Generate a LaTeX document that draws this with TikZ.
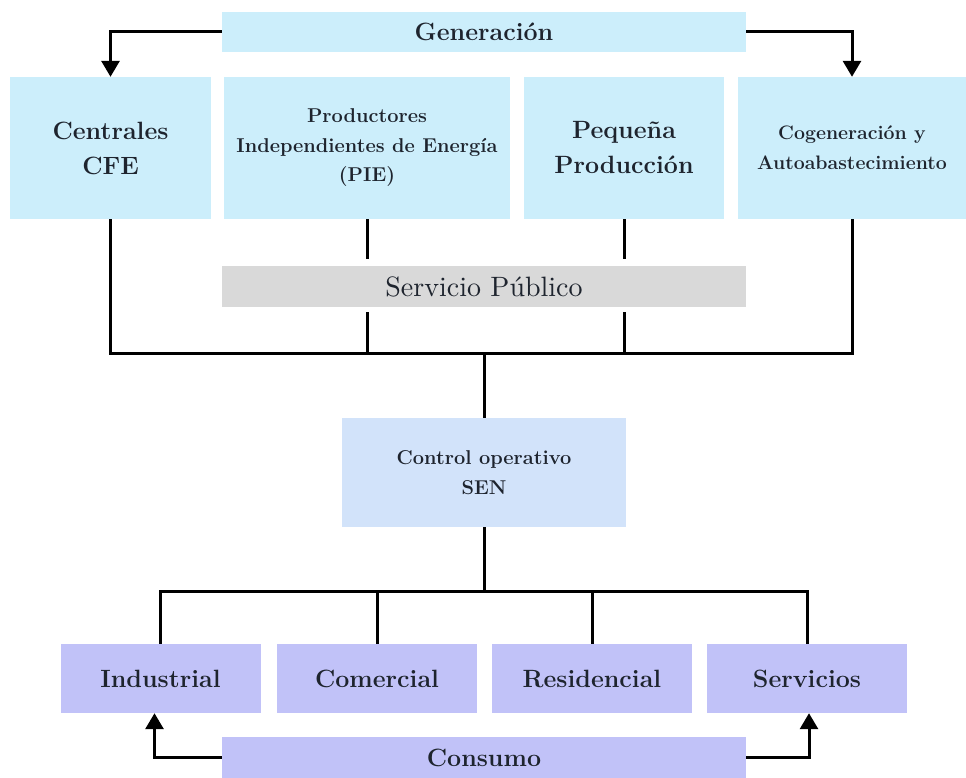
\documentclass[tikz,border=0pt]{standalone}
\usetikzlibrary{arrows.meta,calc}

\definecolor{gencyan}{RGB}{204,238,251}
\definecolor{servgray}{RGB}{217,217,217}
\definecolor{ctrlblue}{RGB}{210,227,250}
\definecolor{conslav}{RGB}{193,194,248}
\definecolor{ink}{RGB}{30,36,46}

\begin{document}
\begin{tikzpicture}[
  x=1pt, y=-1pt,
  box/.style={rectangle, inner sep=0pt, align=center, text=ink},
  bigtext/.style={font=\fontsize{25}{35}\selectfont\bfseries},
  midtext/.style={font=\fontsize{20}{29.5}\selectfont\bfseries},
  gen/.style={box, fill=gencyan, minimum width=524pt, minimum height=40pt, bigtext},
  source/.style={box, fill=gencyan, minimum height=142pt},
  serv/.style={box, fill=servgray, minimum width=524pt, minimum height=41pt,
    font=\fontsize{10}{12}\selectfont},
  ctrl/.style={box, fill=ctrlblue, minimum width=284pt, minimum height=109pt, midtext},
  sector/.style={box, fill=conslav, minimum width=200pt, minimum height=69pt, bigtext},
  cons/.style={box, fill=conslav, minimum width=524pt, minimum height=41pt, bigtext},
  wire/.style={draw=black, line width=3pt},
  feed/.style={wire, -{Triangle[length=16pt,width=18pt]}}
]
\useasboundingbox (0,0) rectangle (966,778);

% generation header and the four kinds of producers
\node[gen] (gen) at (484,32) {Generación};
\node[source, minimum width=201pt, bigtext] (cfe) at (110.5,148) {Centrales\\CFE};
\node[source, minimum width=286pt, midtext] (pie) at (367,148)
  {Productores\\Independientes de Energía\\(PIE)};
\node[source, minimum width=200pt, bigtext] (peq) at (624,148) {Pequeña\\Producción};
\node[source, minimum width=228pt, font=\fontsize{19.5}{30}\selectfont\bfseries]
  (cog) at (852,148) {Cogeneración y\\Autoabastecimiento};

% public service band (10pt design size, enlarged)
\node[serv] (serv) at (484,286.5) {\scalebox{2.8}{Servicio Público}};

% system operator
\node[ctrl] (ctrl) at (484,472.5) {Control operativo\\SEN};

% consumer sectors
\node[sector] (ind) at (160.5,678.5) {Industrial};
\node[sector] (com) at (377,678.5) {Comercial};
\node[sector] (res) at (592,678.5) {Residencial};
\node[sector] (ser) at (807,678.5) {Servicios};
\node[cons] (cons) at (484,757.5) {Consumo};

% bus junctions
\coordinate (bus1) at (484,353);
\coordinate (bus2) at (484,591);

% generation feeds the outer producers
\draw[feed] (gen.west) -| (cfe.north);
\draw[feed] (gen.east) -| (cog.north);

% producers collect into the upper bus
\draw[wire] (cfe.south) -- (cfe.south |- bus1) -- (cog.south |- bus1) -- (cog.south);
\draw[wire, shorten >=7pt] (pie.south) -- (pie.south |- serv.north);
\draw[wire, shorten <=5pt] (pie.south |- serv.south) -- (pie.south |- bus1);
\draw[wire, shorten >=7pt] (peq.south) -- (peq.south |- serv.north);
\draw[wire, shorten <=5pt] (peq.south |- serv.south) -- (peq.south |- bus1);
\draw[wire] (bus1) -- (ctrl.north);

% operator distributes to the lower bus
\draw[wire] (ctrl.south) -- (bus2);
\draw[wire] (ind.north) -- (ind.north |- bus2) -- (ser.north |- bus2) -- (ser.north);
\draw[wire] (com.north) -- (com.north |- bus2);
\draw[wire] (res.north) -- (res.north |- bus2);

% consumption feeds the outer sectors
\draw[feed] (cons.west) -| ($(ind.south)+(-6,0)$);
\draw[feed] (cons.east) -| ($(ser.south)+(2,0)$);
\end{tikzpicture}
\end{document}
